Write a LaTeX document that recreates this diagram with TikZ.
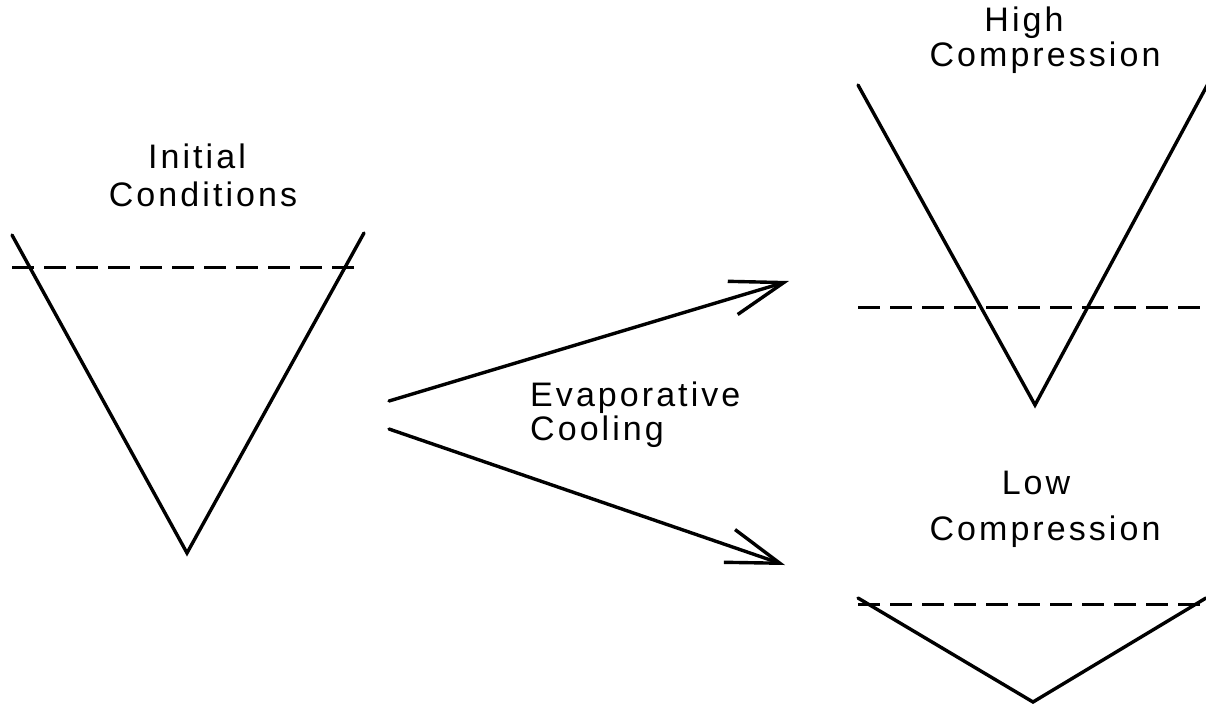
\documentclass[tikz,border=0pt]{standalone}
\usepackage{fontspec}
\setmainfont{Liberation Sans}
\newfontfamily\labfont[LetterSpace=9]{Liberation Sans}
\usetikzlibrary{arrows.meta}
\tikzset{
  wall/.style={line width=3.4pt, line join=miter, line cap=round},
  level/.style={line width=3pt, dash pattern=on 22pt off 10pt},
  flow/.style={line width=3.4pt, line cap=round,
    -{Straight Barb[angle=36:56pt, line width=3.4pt]}},
  lab/.style={font=\labfont\fontsize{34}{38}\selectfont, inner sep=0pt, anchor=base},
  labl/.style={lab, anchor=base west}
}
\begin{document}
\begin{tikzpicture}[x=1pt, y=-1pt]
  \useasboundingbox (0,0) rectangle (1206,705);
  % initial well
  \draw[wall] (12,235) -- (187,553) -- (364,233);
  \draw[level] (12,267) -- (364,267);
  \node[lab] (init1) at (197,168) {Initial};
  \node[lab] (init2) at (203,206) {Conditions};
  % high compression well
  \draw[wall] (858,85) -- (1035,405) -- (1210,80);
  \draw[level] (858,307) -- (1206,307);
  \node[lab] (high1) at (1024,31) {High};
  \node[lab] (high2) at (1045,66) {Compression};
  % low compression well
  \draw[wall] (858,598) -- (1033,702) -- (1206,598);
  \draw[level] (858,604) -- (1206,604);
  \node[lab] (low1) at (1036,494) {Low};
  \node[lab] (low2) at (1045,540) {Compression};
  % evaporative cooling arrows
  \coordinate (s1) at (389,401);
  \coordinate (e1) at (789,281);
  \coordinate (s2) at (389,429);
  \coordinate (e2) at (785,565);
  \draw[flow] (s1) -- (e1);
  \draw[flow] (s2) -- (e2);
  \node[labl] (evap1) at (530,406) {Evaporative};
  \node[labl] (evap2) at (530,440) {Cooling};
\end{tikzpicture}
\end{document}
